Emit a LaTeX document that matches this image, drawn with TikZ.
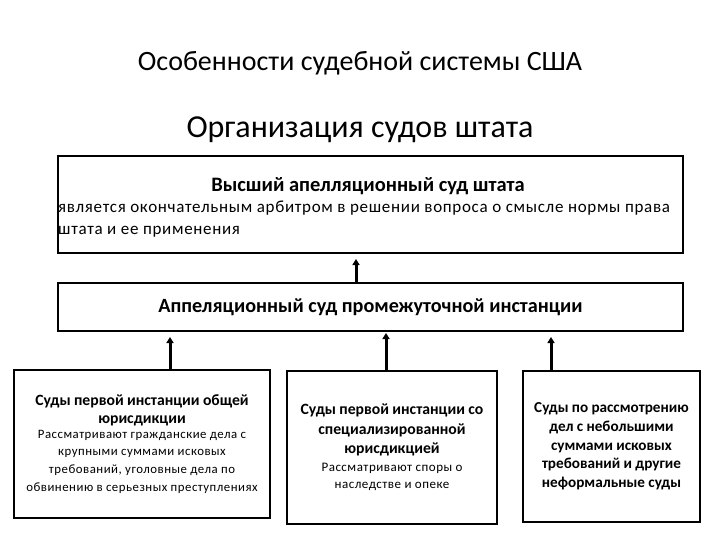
\documentclass[tikz,border=0pt]{standalone}
\usepackage{fontspec}
\setmainfont{Carlito}
\usetikzlibrary{arrows.meta}
\newcommand{\sptext}{\addfontfeature{LetterSpace=4}}
\begin{document}
\begin{tikzpicture}[x=1pt,y=-1pt,
  box/.style={draw=black,line width=2pt,fill=white,inner sep=0pt},
  arr/.style={line width=3pt,-{Triangle[length=6pt,width=7pt]},shorten >=5pt}]
\useasboundingbox (0,0) rectangle (720,540);
\node[font=\fontsize{28}{32}\selectfont] (t1) at (360,63) {Особенности судебной системы США};
\node[font=\fontsize{32}{36}\selectfont] (t2) at (360,130) {Организация судов штата};
% top box
\node[box,minimum width=625pt,minimum height=97pt] (top) at (370.5,204.5) {};
\node[font=\fontsize{20.5}{24}\selectfont\bfseries] (toph) at (368,186) {Высший апелляционный суд штата};
\node[font=\fontsize{17}{22}\selectfont\sptext,anchor=north west,align=left,inner sep=0pt] (topb) at (58,201)
  {является окончательным арбитром в решении вопроса о смысле нормы права\\штата и ее применения};
% middle box
\node[box,minimum width=625pt,minimum height=48pt,font=\fontsize{20.2}{24}\selectfont\bfseries] (mid) at (370.5,307) {Аппеляционный суд промежуточной инстанции};
% bottom boxes
\node[box,minimum width=256pt,minimum height=148pt,text width=254pt,align=center] (lb) at (142,444)
  {{\fontsize{15.7}{18}\selectfont\bfseries Суды первой инстанции общей\\юрисдикции\par}\vspace{-3pt}%
   {\fontsize{12.8}{17.7}\selectfont\sptext Рассматривают гражданские дела с\\крупными суммами исковых\\требований, уголовные дела по\\обвинению в серьезных преступлениях\par}\vspace{-8pt}};
\node[box,minimum width=210pt,minimum height=153pt,text width=208pt,align=center] (cb) at (392,447.5)
  {{\fontsize{15.7}{19.5}\selectfont\bfseries Суды первой инстанции со\\специализированной\\юрисдикцией\par}%
   {\fontsize{13}{17.5}\selectfont\sptext Рассматривают споры о\\наследстве и опеке\par}\vspace{-4pt}};
\node[box,minimum width=177pt,minimum height=151pt,text width=175pt,align=center] (rb) at (611.5,446.5)
  {{\fontsize{15.2}{18.7}\selectfont\bfseries Суды по рассмотрению\\дел с небольшими\\суммами исковых\\требований и другие\\неформальные суды\par}};
% arrows
\draw[arr] ([xshift=-14.5pt]mid.north) -- ([xshift=-14.5pt]mid.north |- top.south);
\draw[arr] ([xshift=28pt]lb.north) -- ([xshift=28pt]lb.north |- mid.south);
\draw[arr,shorten >=1pt] ([xshift=-6pt]cb.north) -- ([xshift=-6pt]cb.north |- mid.south);
\draw[arr] ([xshift=-60.5pt]rb.north) -- ([xshift=-60.5pt]rb.north |- mid.south);
\end{tikzpicture}
\end{document}
